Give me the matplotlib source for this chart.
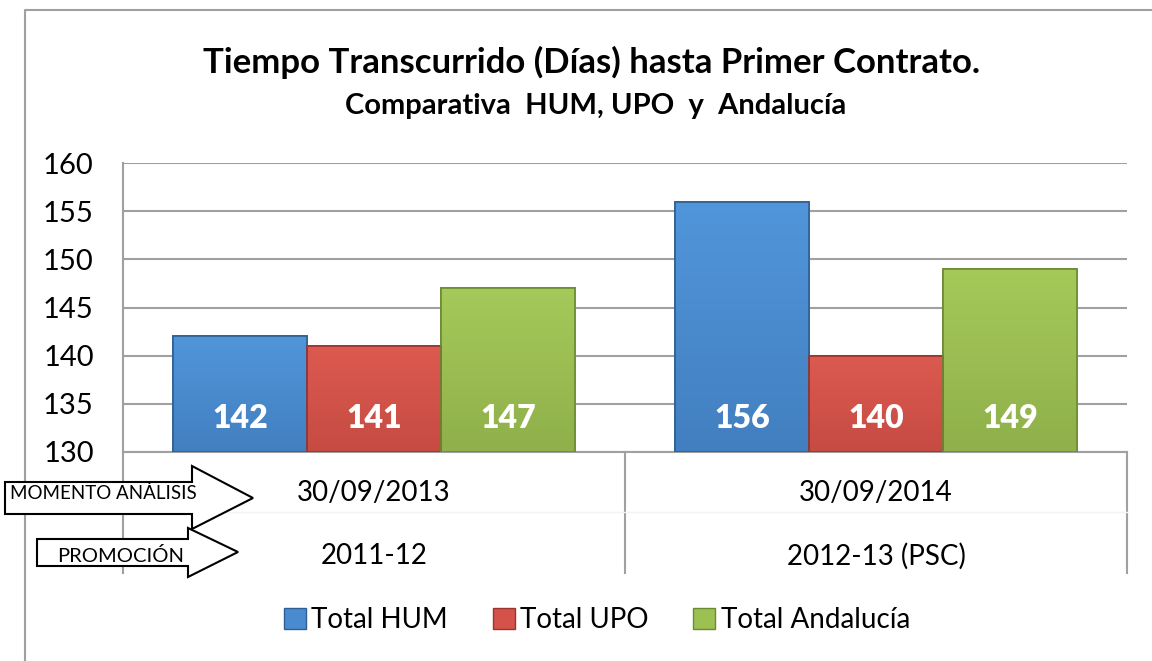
import matplotlib
matplotlib.use("Agg")
import matplotlib.pyplot as plt
import matplotlib.transforms as mtransforms
from matplotlib.colors import LinearSegmentedColormap
from matplotlib.patches import Polygon, Patch
from matplotlib.lines import Line2D
import numpy as np

plt.rcParams['font.family'] = ['Lato', 'DejaVu Sans']

# data
fechas = ['30/09/2013', '30/09/2014']
promociones = ['2011-12', '2012-13 (PSC)']
series = ['Total HUM', 'Total UPO', 'Total Andalucía']
hum = [142, 156]
upo = [141, 140]
andalucia = [147, 149]
valores = [hum, upo, andalucia]
colores = ['#4a8bd0', '#d4524a', '#9cc052']
claros = ['#5196da', '#dc5a50', '#a6c95a']
oscuros = ['#427fc0', '#c64b43', '#8fb04a']
bordes = ['#2f5f92', '#9a3430', '#6b8a34']

fig = plt.figure(figsize=(11.52, 6.61), dpi=100)
ax = fig.add_axes([123/1152, 1 - 452/661, 1004/1152, 289/661])

x = np.arange(len(fechas))
w = 0.267
grad = np.linspace(1, 0, 256).reshape(-1, 1)
for i, vals in enumerate(valores):
    bars = ax.bar(x + (i - 1) * w, np.array(vals) - 130, w, bottom=130,
                  color=colores[i], edgecolor=bordes[i], linewidth=1.2, zorder=3)
    cmap = LinearSegmentedColormap.from_list('g%d' % i, [oscuros[i], claros[i]])
    for b, v in zip(bars, vals):
        x0, y0 = b.get_x(), b.get_y()
        im = ax.imshow(grad, cmap=cmap, aspect='auto', zorder=3.5,
                       extent=[x0, x0 + b.get_width(), y0, y0 + b.get_height()])
        im.set_clip_path(b)
        ax.bar(b.get_x() + b.get_width() / 2, b.get_height(), b.get_width(), bottom=y0,
               facecolor='none', edgecolor=bordes[i], linewidth=1.2, zorder=3.6)
        ax.text(b.get_x() + b.get_width() / 2, 133.5, str(v), ha='center', va='center',
                color='white', fontsize=23, fontweight='heavy', zorder=4)

ax.set_xlim(-0.5, 1.5)
ax.set_ylim(130, 160)
ax.set_yticks(range(130, 161, 5))
ax.tick_params(axis='y', length=0, labelsize=21, pad=21)
ax.set_xticks([])
ax.grid(axis='y', color='#a0a0a0', linewidth=1.5, zorder=0)
for s in ['top', 'right']:
    ax.spines[s].set_visible(False)
ax.spines['left'].set_color('#a0a0a0')
ax.spines['bottom'].set_color('#a0a0a0')
ax.spines['left'].set_linewidth(1.5)
ax.spines['bottom'].set_linewidth(1.5)

# category table below the axis
tr = mtransforms.blended_transform_factory(ax.transData, ax.transAxes)
fondo = -121 / 289
for xv in [-0.5, 0.5, 1.5]:
    ax.plot([xv, xv], [0, fondo], transform=tr, color='#a0a0a0', lw=1.5, clip_on=False)
ax.plot([-0.5, 1.5], [-60 / 289, -60 / 289], transform=tr, color='#f4f4f4', lw=1, clip_on=False)
for xi, f, p in zip(x, fechas, promociones):
    ax.text(xi, -41 / 289, f, transform=tr, ha='center', va='center', fontsize=20)
    ax.text(xi, -104 / 289, p, transform=tr, ha='center', va='center', fontsize=20)

# titles
fig.text(592 / 1152, 1 - 62 / 661, 'Tiempo Transcurrido (Días) hasta Primer Contrato.',
         ha='center', va='center', fontsize=25, fontweight='bold')
fig.text(596 / 1152, 1 - 106 / 661, 'Comparativa  HUM, UPO  y  Andalucía',
         ha='center', va='center', fontsize=21, fontweight='bold')

# figure border (left and top)
fig.add_artist(Line2D([25 / 1152, 25 / 1152, 1], [0, 1 - 10 / 661, 1 - 10 / 661],
                      transform=fig.transFigure, color='#a0a0a0', lw=1.5))


# block arrows at the left
def flecha(x0, x1, x2, yb0, yb1, yh0, yh1, ymid):
    pts = [(x0, yb0), (x1, yb0), (x1, yh0), (x2, ymid), (x1, yh1), (x1, yb1), (x0, yb1)]
    pts = [(px / 1152, 1 - py / 661) for px, py in pts]
    fig.add_artist(Polygon(pts, closed=True, transform=fig.transFigure,
                           facecolor='white', edgecolor='black', lw=1.5, zorder=5))


flecha(5, 192, 253, 482, 514, 466, 529, 498)
flecha(37, 188, 238, 539, 566, 528, 577, 552)
fig.text(103 / 1152, 1 - 493 / 661, 'MOMENTO ANÁLISIS', ha='center', va='center',
         fontsize=13.5, zorder=6)
fig.text(121 / 1152, 1 - 556 / 661, 'PROMOCIÓN', ha='center', va='center',
         fontsize=14.5, zorder=6)

# legend
handles = [Patch(facecolor=c, edgecolor=ec) for c, ec in zip(colores, bordes)]
fig.legend(handles, series, loc='center', bbox_to_anchor=(597 / 1152, 1 - 620 / 661),
           ncol=3, frameon=False, fontsize=20, handlelength=0.8, handleheight=0.8,
           handletextpad=0.2, columnspacing=1.6)

fig.savefig('out.png', dpi=100, facecolor='white')
